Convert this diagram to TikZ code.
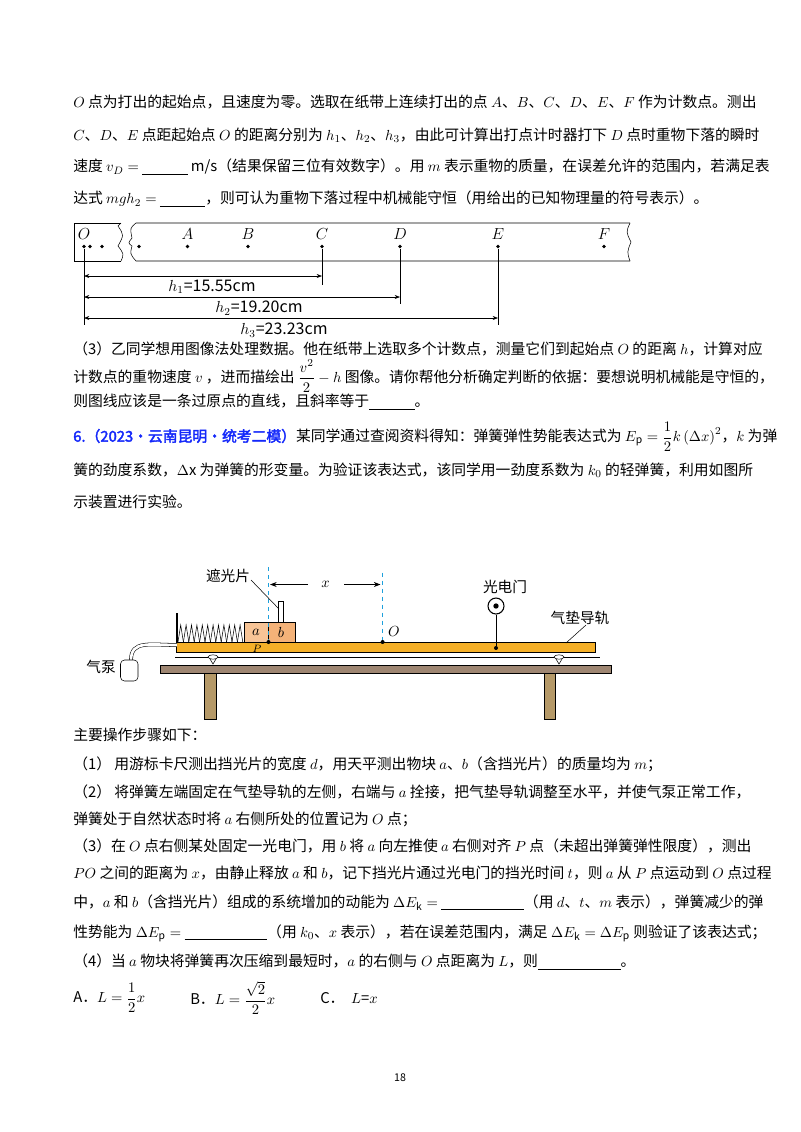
\documentclass[tikz,border=0pt]{standalone}
\usepackage{amsmath}
\usepackage{fontspec}
\setmainfont{Noto Sans CJK SC}[AutoFakeBold=2.5]
\usetikzlibrary{arrows.meta}
\definecolor{rail}{RGB}{245,176,40}
\definecolor{blka}{RGB}{247,196,150}
\definecolor{blkb}{RGB}{244,178,120}
\definecolor{board}{RGB}{158,134,114}
\definecolor{leg}{RGB}{181,153,104}
\definecolor{markblue}{RGB}{30,160,220}
\definecolor{title}{RGB}{20,40,250}
\newcommand{\blank}[1]{\underline{\hspace{#1pt}}}
\newcommand{\gap}{\hspace{2.5pt}}
\tikzset{
  txt/.style={anchor=west,inner sep=0pt,font=\fontsize{11.1}{13}\selectfont},
  lbl/.style={inner sep=0pt,font=\fontsize{11}{13}\selectfont},
  dot/.style={circle,fill,inner sep=0pt,minimum size=3pt}
}
\begin{document}
\begin{tikzpicture}[x=0.75pt,y=-0.75pt]
\useasboundingbox (0,0) rectangle (800,1132);
%text above the tape
\node[txt] (t1) at (73,102) {$O$\gap 点为打出的起始点，且速度为零。选取在纸带上连续打出的点\gap$A$、$B$、$C$、$D$、$E$、$F$\gap 作为计数点。测出};
\node[txt] (t2) at (73,135) {$C$、$D$、$E$\gap 点距起始点\gap$O$\gap 的距离分别为\gap$h_1$、$h_2$、$h_3$，由此可计算出打点计时器打下\gap$D$\gap 点时重物下落的瞬时};
\node[txt] (t3) at (73,167) {速度\gap$v_D=$\gap\blank{34}\gap m/s（结果保留三位有效数字）。用\gap$m$\gap 表示重物的质量，在误差允许的范围内，若满足表};
\node[txt] (t4) at (73,199) {达式\gap$mgh_2=$\gap\blank{34}，则可认为重物下落过程中机械能守恒（用给出的已知物理量的符号表示）。};
%paper tape
\draw (121,223)--(74,223)--(74,261)--(121,261);
\draw (121,223)--(118,226) .. controls (124,235) .. (118,246) .. controls (124,254) .. (121,261);
\draw (630,223)--(136,223) .. controls (130,228) .. (132,238) .. controls (128,243) .. (132,246) .. controls (130,254) .. (136,261)--(630,261);
\draw (630,223) .. controls (626,232) .. (631,242) .. controls (627,252) .. (630,261);
\foreach \n/\x in {o/84,o2/90,o3/102,o4/139,A/187.5,B/248,C/322,D/400,E/498,F/604}
  \node[dot,minimum size=2.8pt] (p\n) at (\x,246.5) {};
\foreach \n/\x in {O/84,A/187.5,B/248,C/322,D/400,E/498,F/604}
  \node[lbl,font=\fontsize{12}{13}\selectfont] (l\n) at (\x,234.5) {$\n$};
\coordinate (bO) at (84,325);
\coordinate (bC) at (322,285);
\coordinate (bD) at (400,304);
\coordinate (bE) at (498,325);
\draw[thin] (po)--(bO) (pC)--(bC) (pD)--(bD) (pE)--(bE);
\draw[{Stealth[length=4pt]}-{Stealth[length=4pt]},thin] (84,276)--(322,276);
\draw[{Stealth[length=4pt]}-{Stealth[length=4pt]},thin] (84,297)--(400,297);
\draw[{Stealth[length=4pt]}-{Stealth[length=4pt]},thin] (84,318)--(498,318);
\node[lbl,font=\fontsize{12}{13}\selectfont] (h1) at (212,287) {$h_1$=15.55cm};
\node[lbl,font=\fontsize{12}{13}\selectfont] (h2) at (259,308) {$h_2$=19.20cm};
\node[lbl,font=\fontsize{12}{13}\selectfont] (h3) at (284,330) {$h_3$=23.23cm};
%question (3) and problem 6
\node[txt] (t5) at (73,349) {（3）乙同学想用图像法处理数据。他在纸带上选取多个计数点，测量它们到起始点\gap$O$\gap 的距离\gap$h$，计算对应};
\node[txt] (t6) at (73,376) {计数点的重物速度\gap$v$\gap，进而描绘出\gap$\dfrac{v^2}{2}-h$\gap 图像。请你帮他分析确定判断的依据：要想说明机械能是守恒的，};
\node[txt] (t7) at (73,402) {则图线应该是一条过原点的直线，且斜率等于\blank{34}。};
\node[txt] (t8) at (73,437) {\textcolor{title}{\textbf{6.（2023·云南昆明·统考二模）}}某同学通过查阅资料得知：弹簧弹性势能表达式为\gap$E_\mathrm{p}=\dfrac12k\left(\Delta x\right)^2$，$k$\gap 为弹};
\node[txt] (t9) at (73,470) {簧的劲度系数，$\Delta$x\gap 为弹簧的形变量。为验证该表达式，该同学用一劲度系数为\gap$k_0$\gap 的轻弹簧，利用如图所};
\node[txt] (t10) at (73,502) {示装置进行实验。};
%apparatus: table
\draw[fill=leg] (204,673) rectangle (216,719);
\draw[fill=leg] (544,673) rectangle (555,719);
\draw[fill=board] (160,665) rectangle (611,673);
\draw (175,657)--(600,657);
\foreach \x in {213,559}{
  \draw[fill=white] (\x-3,659)--(\x,664)--(\x+3,659);
  \draw[fill=white] (\x,657) ellipse (5 and 2.2);
}
%air track
\draw[fill=rail] (176.5,642) rectangle (595,652);
%spring
\draw[thick] (177,613)--(177,642);
\foreach \i in {0,...,11}
  \draw (178+5.4*\i,642)--(180.7+5.4*\i,625)--(183.4+5.4*\i,642);
%blocks
\draw[fill=blka] (244,622) rectangle (268.5,642);
\draw[fill=blkb] (268.5,622) rectangle (295,642);
\draw[fill=white] (278.7,601.5) rectangle (283,622);
\node[lbl] (ba) at (256,632) {$a$};
\node[lbl] (bb) at (281,632) {$b$};
%dashed marks and x
\coordinate (dP) at (268.5,567);
\coordinate (dO) at (382.6,572.6);
\draw[markblue,thick,dashed] (dP)--(268.5,642);
\draw[markblue,thick,dashed] (dO)--(382.6,642);
\node[lbl] (xl) at (325.6,584.5) {$x$};
\draw[-{Stealth[length=5pt]},semithick] (308,584.5)--(270,584.5);
\draw[-{Stealth[length=5pt]},semithick] (344,584.5)--(380.5,584.5);
\node[lbl] (zg) at (228,576) {遮光片};
\draw (251,580)--(279,609);
\node[dot] (P) at (268.5,642) {};
\node[lbl,font=\fontsize{8}{9}\selectfont] (Pl) at (257,649) {$P$};
\node[dot] (O) at (382.6,642) {};
\node[lbl] (Ol) at (394,632) {$O$};
%photogate
\node[circle,draw,thick,fill=white,minimum size=12pt,inner sep=0pt] (gate) at (496,606) {};
\node[dot,minimum size=4pt] at (gate) {};
\node[dot] (gf) at (496,648) {};
\draw (gate)--(gf);
\node[lbl] (gl) at (505,587) {光电门};
\node[lbl] (tl) at (580,618) {气垫导轨};
\draw (586,625)--(566,643);
%pump
\draw[double distance=2pt,thin] (131,660) .. controls (131,640) and (150,645) .. (177,645);
\draw[rounded corners=3pt,fill=white] (120.5,660) rectangle (138,681);
\node[lbl] (pump) at (101,666.5) {气泵};
%steps
\node[txt] (s0) at (73,735) {主要操作步骤如下：};
\node[txt] (s1) at (73,764) {（1）\ 用游标卡尺测出挡光片的宽度\gap$d$，用天平测出物块\gap$a$、$b$（含挡光片）的质量均为\gap$m$；};
\node[txt] (s2) at (73,792) {（2）\ 将弹簧左端固定在气垫导轨的左侧，右端与\gap$a$\gap 拴接，把气垫导轨调整至水平，并使气泵正常工作，};
\node[txt] (s3) at (73,819) {弹簧处于自然状态时将\gap$a$\gap 右侧所处的位置记为\gap$O$\gap 点；};
\node[txt] (s4) at (73,846) {（3）在\gap$O$\gap 点右侧某处固定一光电门，用\gap$b$\gap 将\gap$a$\gap 向左推使\gap$a$\gap 右侧对齐\gap$P$\gap 点（未超出弹簧弹性限度），测出};
\node[txt] (s5) at (73,873) {$PO$\gap 之间的距离为\gap$x$，由静止释放\gap$a$\gap 和\gap$b$，记下挡光片通过光电门的挡光时间\gap$t$，则\gap$a$\gap 从\gap$P$\gap 点运动到\gap$O$\gap 点过程};
\node[txt] (s6) at (73,903) {中，$a$\gap 和\gap$b$（含挡光片）组成的系统增加的动能为\gap$\Delta E_\mathrm{k}=$\gap\blank{62}（用\gap$d$、$t$、$m$\gap 表示），弹簧减少的弹};
\node[txt] (s7) at (73,933) {性势能为\gap$\Delta E_\mathrm{p}=$\gap\blank{62}（用\gap$k_0$、$x$\gap 表示），若在误差范围内，满足\gap$\Delta E_\mathrm{k}=\Delta E_\mathrm{p}$\gap 则验证了该表达式；};
\node[txt] (s8) at (73,962) {（4）当\gap$a$\gap 物块将弹簧再次压缩到最短时，$a$\gap 的右侧与\gap$O$\gap 点距离为\gap$L$，则\blank{62}。};
\node[txt] (oA) at (73,998) {A．$L=\dfrac12x$};
\node[txt] (oB) at (190,998) {B．$L=\dfrac{\sqrt2}{2}x$};
\node[txt] (oC) at (320,998) {C．\ \ $L$=$x$};
\node[lbl,font=\fontsize{8}{9}\selectfont] (pg) at (400,1078) {18};
\end{tikzpicture}
\end{document}
